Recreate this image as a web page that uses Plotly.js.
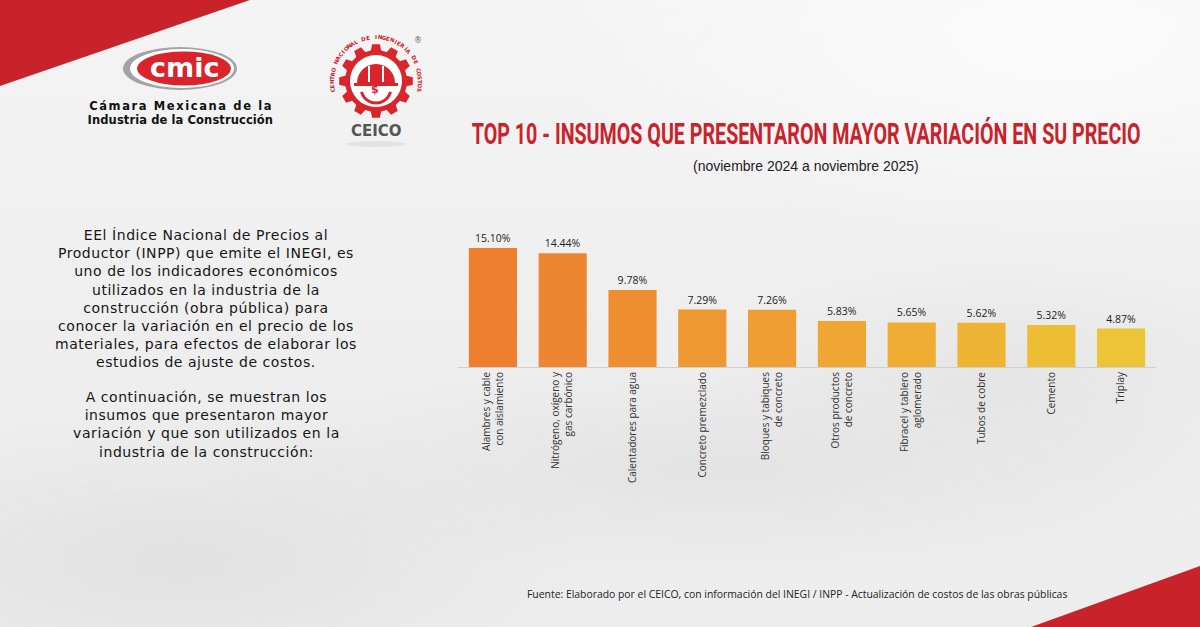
<!DOCTYPE html>
<html lang="es">
<head>
<meta charset="utf-8">
<script src="https://cdn.plot.ly/plotly-3.0.1.min.js"></script>
<style>
  html, body { margin: 0; padding: 0; }
  body {
    width: 1200px; height: 627px; overflow: hidden;
    background:
      radial-gradient(ellipse 520px 200px at 1060px 40px, #fbfbfb, rgba(251,251,251,0)),
      radial-gradient(ellipse 420px 150px at 180px 560px, #e1e1e1, rgba(225,225,225,0)),
      radial-gradient(ellipse 520px 110px at 720px 470px, #e3e3e3, rgba(227,227,227,0)),
      radial-gradient(ellipse 300px 120px at 1000px 380px, #e5e5e5, rgba(229,229,229,0)),
      linear-gradient(180deg, #f4f4f4 0%, #eeeeee 55%, #ededed 100%);
  }
  #chart { width: 1200px; height: 627px; }
</style>
</head>
<body>
<div id="chart"></div>
<script>
// ---- data ----
const categories = [
  "Alambres y cable<br>con aislamiento",
  "Nitrógeno, oxígeno y<br>gas carbónico",
  "Calentadores para agua",
  "Concreto premezclado",
  "Bloques y tabiques<br>de concreto",
  "Otros productos<br>de concreto",
  "Fibracel y tablero<br>aglomerado",
  "Tubos de cobre",
  "Cemento",
  "Triplay"
];
const variation = [15.10, 14.44, 9.78, 7.29, 7.26, 5.83, 5.65, 5.62, 5.32, 4.87];
const barColors = ["#EE7F2F", "#EE8631", "#EE8E31", "#EE9832", "#EE9E32",
                   "#EFA633", "#EFAD33", "#EEB534", "#EDBD35", "#EBC437"];

const titleText = "TOP 10 - INSUMOS QUE PRESENTARON MAYOR VARIACIÓN EN SU PRECIO";
const subtitleText = "(noviembre 2024 a noviembre 2025)";
const introText = [
  "EEl Índice Nacional de Precios al",
  "Productor (INPP) que emite el INEGI, es",
  "uno de los indicadores económicos",
  "utilizados en la industria de la",
  "construcción (obra pública) para",
  "conocer la variación en el precio de los",
  "materiales, para efectos de elaborar los",
  "estudios de ajuste de costos."
];
const introText2 = [
  "A continuación, se muestran los",
  "insumos que presentaron mayor",
  "variación y que son utilizados en la",
  "industria de la construcción:"
];
const sourceText = "Fuente: Elaborado por el CEICO, con información del INEGI / INPP - Actualización de costos de las obras públicas";
const chamberName = ["Cámara Mexicana de la", "Industria de la Construcción"];
const ceicoRing = "CENTRO NACIONAL DE INGENIERÍA DE COSTOS";

// ---- page coordinate helpers (pixels -> paper) ----
const W = 1200, H = 627;
const px = v => v / W;
const py = v => 1 - v / H;
const RED = "#C8232B";
const TITLE_WIDTH = 669;   // condensed heading width in pixels

function polyPath(points) {
  return "M " + points.map(p => px(p[0]).toFixed(5) + " " + py(p[1]).toFixed(5)).join(" L ") + " Z";
}

// gear outline for the CEICO emblem
function gearPoints(cx, cy, rOut, rIn, teeth) {
  const pts = [];
  const step = 360 / teeth;
  for (let i = 0; i < teeth; i++) {
    const a = i * step;
    [[rIn, a - step * 0.32], [rOut, a - step * 0.2], [rOut, a + step * 0.2], [rIn, a + step * 0.32]]
      .forEach(([r, d]) => {
        const t = d * Math.PI / 180;
        pts.push([cx + r * Math.cos(t), cy + r * Math.sin(t)]);
      });
  }
  return pts;
}
function arcPoints(cx, cy, r, a0, a1, n) {
  const pts = [];
  for (let i = 0; i <= n; i++) {
    const t = (a0 + (a1 - a0) * i / n) * Math.PI / 180;
    pts.push([cx + r * Math.cos(t), cy + r * Math.sin(t)]);
  }
  return pts;
}
function openPath(points) {
  return "M " + points.map(p => px(p[0]).toFixed(5) + " " + py(p[1]).toFixed(5)).join(" L ");
}

const shapes = [
  // red corner bands
  { type: "path", xref: "paper", yref: "paper", layer: "below",
    path: polyPath([[0, 0], [250, 0], [0, 86]]), fillcolor: RED, line: { width: 0 } },
  { type: "path", xref: "paper", yref: "paper", layer: "below",
    path: polyPath([[1200, 566], [1200, 627], [1031, 627]]), fillcolor: RED, line: { width: 0 } },
  // CMIC emblem
  { type: "circle", xref: "paper", yref: "paper", layer: "below",
    x0: px(123), x1: px(237), y0: py(47), y1: py(90), fillcolor: "#a3a3a3", line: { width: 0 } },
  { type: "circle", xref: "paper", yref: "paper", layer: "below",
    x0: px(130), x1: px(234), y0: py(49), y1: py(88), fillcolor: "#ffffff", line: { width: 0 } },
  { type: "circle", xref: "paper", yref: "paper", layer: "below",
    x0: px(137), x1: px(231), y0: py(51.5), y1: py(85.5), fillcolor: "#D9242B", line: { width: 0 } },
  // CEICO emblem
  { type: "path", xref: "paper", yref: "paper", layer: "below",
    path: polyPath(gearPoints(376, 81, 37, 31, 12)), fillcolor: "#D8262C", line: { width: 0 } },
  { type: "circle", xref: "paper", yref: "paper", layer: "below",
    x0: px(350), x1: px(402), y0: py(55), y1: py(107), fillcolor: "#ffffff", line: { width: 0 } },
  { type: "path", xref: "paper", yref: "paper", layer: "below",
    path: polyPath(arcPoints(376, 83, 19, 180, 360, 24).concat([[398, 83], [398, 86], [354, 86], [354, 83]])),
    fillcolor: "#D8262C", line: { width: 0 } },
  { type: "line", xref: "paper", yref: "paper", layer: "below",
    x0: px(369), x1: px(369), y0: py(66), y1: py(82), line: { color: "#ffffff", width: 2 } },
  { type: "line", xref: "paper", yref: "paper", layer: "below",
    x0: px(383), x1: px(383), y0: py(66), y1: py(82), line: { color: "#ffffff", width: 2 } },
  { type: "path", xref: "paper", yref: "paper", layer: "below",
    path: openPath(arcPoints(376, 88, 15, 15, 165, 20)), line: { color: "#D8262C", width: 3 } },
  { type: "circle", xref: "paper", yref: "paper", layer: "below",
    x0: px(346), x1: px(406), y0: py(141), y1: py(147), fillcolor: "rgba(0,0,0,0.06)", line: { width: 0 } }
];

const annotations = [
  { text: "cmic", x: px(184), y: py(68), xref: "paper", yref: "paper", showarrow: false,
    xanchor: "center", yanchor: "middle",
    font: { family: "DejaVu Sans", size: 27, color: "#ffffff", weight: 700 } },
  { text: chamberName[0], x: px(181), y: py(106), xref: "paper", yref: "paper", showarrow: false,
    xanchor: "center", yanchor: "middle", borderpad: 0,
    font: { family: "DejaVu Sans", size: 11.5, color: "#111111", weight: 700 } },
  { text: chamberName[1], x: px(180), y: py(120), xref: "paper", yref: "paper", showarrow: false,
    xanchor: "center", yanchor: "middle", borderpad: 0,
    font: { family: "DejaVu Sans", size: 11.5, color: "#111111", weight: 700 } },
  { text: "$", x: px(375), y: py(90), xref: "paper", yref: "paper", showarrow: false,
    xanchor: "center", yanchor: "middle",
    font: { family: "DejaVu Sans", size: 11, color: "#D8262C", weight: 700 } },
  { text: "CEICO", x: px(376), y: py(131), xref: "paper", yref: "paper", showarrow: false,
    xanchor: "center", yanchor: "middle",
    font: { family: "DejaVu Sans", size: 15, color: "#555555", weight: 700 } },
  { text: "®", x: px(418), y: py(41), xref: "paper", yref: "paper", showarrow: false,
    xanchor: "center", yanchor: "middle",
    font: { family: "DejaVu Sans", size: 8, color: "#666666" } },
  // heading
  { text: titleText, x: px(806), y: py(133), xref: "paper", yref: "paper", showarrow: false,
    xanchor: "center", yanchor: "middle",
    font: { family: "Roboto", size: 30, color: RED, weight: 700 } },
  { text: subtitleText, x: px(806), y: py(166), xref: "paper", yref: "paper", showarrow: false,
    xanchor: "center", yanchor: "middle",
    font: { family: "Liberation Sans", size: 14, color: "#222222" } },
  // explanatory paragraphs
  { text: introText.join("<br>"), x: px(206), y: py(298), xref: "paper", yref: "paper", showarrow: false,
    xanchor: "center", yanchor: "middle", align: "center", borderpad: 0,
    font: { family: "DejaVu Sans", size: 14, color: "#161616" } },
  { text: introText2.join("<br>"), x: px(206), y: py(424), xref: "paper", yref: "paper", showarrow: false,
    xanchor: "center", yanchor: "middle", align: "center", borderpad: 0,
    font: { family: "DejaVu Sans", size: 14, color: "#161616" } },
  { text: sourceText, x: px(797), y: py(594), xref: "paper", yref: "paper", showarrow: false,
    xanchor: "center", yanchor: "middle",
    font: { family: "Open Sans", size: 10.4, color: "#222222" } }
];

// ring lettering around the gear
(function () {
  const cx = 376, cy = 81, r = 44;
  const a0 = 192, a1 = -12;
  const n = ceicoRing.length;
  for (let i = 0; i < n; i++) {
    const ch = ceicoRing[i];
    if (ch === " ") continue;
    const phi = a0 + (a1 - a0) * i / (n - 1);
    const t = phi * Math.PI / 180;
    annotations.push({
      text: ch, x: px(cx + r * Math.cos(t)), y: py(cy - r * Math.sin(t)),
      xref: "paper", yref: "paper", showarrow: false, xanchor: "center", yanchor: "middle",
      textangle: 90 - phi, borderpad: 0,
      font: { family: "DejaVu Sans", size: 5.5, color: "#C8232B", weight: 700 }
    });
  }
})();

const trace = {
  type: "bar",
  x: categories,
  y: variation,
  marker: { color: barColors, line: { width: 0 } },
  texttemplate: "%{y:.2f}%",
  textposition: "outside",
  cliponaxis: false,
  textfont: { family: "Open Sans", size: 10.5, color: "#222222" },
  hoverinfo: "skip"
};

const layout = {
  width: W, height: H,
  margin: { l: 0, r: 0, t: 0, b: 0 },
  paper_bgcolor: "rgba(0,0,0,0)",
  plot_bgcolor: "rgba(0,0,0,0)",
  showlegend: false,
  bargap: 0.31,
  xaxis: {
    domain: [458 / W, 1156 / W],
    type: "category",
    tickangle: -90,
    ticks: "",
    showline: true, linecolor: "#cfcfcf", linewidth: 1,
    showgrid: false, zeroline: false, automargin: false,
    tickfont: { family: "Open Sans", size: 10, color: "#333333" }
  },
  yaxis: {
    domain: [(H - 367) / H, (H - 200) / H],
    range: [0, 167 / 7.88],
    visible: false, showgrid: false, zeroline: false, automargin: false
  },
  shapes: shapes,
  annotations: annotations
};

// typographic touches: condensed heading, tracked chamber name and paragraphs
const paragraphs = [introText, introText2].map(p => p.join(""));
function finishType(gd) {
  gd.querySelectorAll("text.annotation-text").forEach(el => {
    const t = el.textContent;
    if (t === titleText) {
      const box = el.getBBox();
      const s = TITLE_WIDTH / box.width;
      const cx = box.x + box.width / 2;
      el.setAttribute("transform", `translate(${cx},0) scale(${s},1) translate(${-cx},0)`);
    } else if (t === chamberName[0]) {
      el.style.letterSpacing = "1.6px";
    } else if (t === chamberName[1]) {
      el.style.letterSpacing = "0.1px";
    } else if (paragraphs.includes(t)) {
      el.style.letterSpacing = "0.55px";
    }
  });
}

Plotly.newPlot("chart", [trace], layout, { displayModeBar: false, staticPlot: true })
  .then(finishType);
</script>
</body>
</html>
